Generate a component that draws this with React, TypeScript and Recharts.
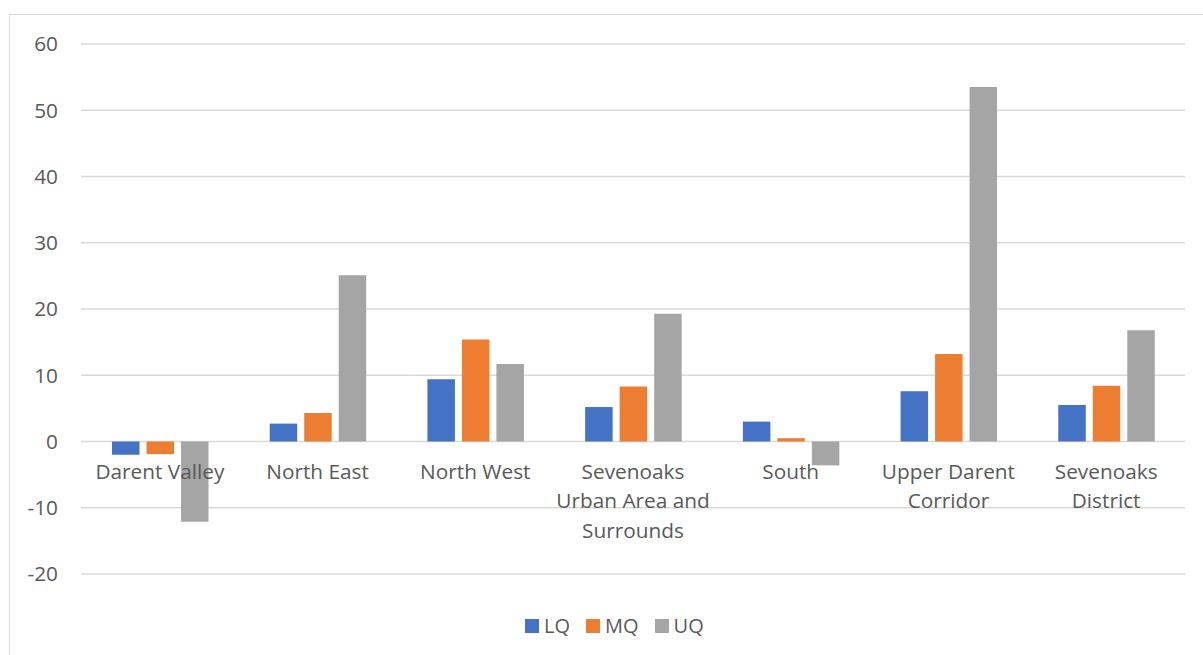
import { Bar, BarChart, CartesianGrid, Legend, XAxis, YAxis } from 'recharts';

const categories = [
  'Darent Valley',
  'North East',
  'North West',
  'Sevenoaks Urban Area and Surrounds',
  'South',
  'Upper Darent Corridor',
  'Sevenoaks District',
];
const lq = [-2.0, 2.7, 9.4, 5.2, 3.0, 7.6, 5.5];
const mq = [-1.9, 4.3, 15.4, 8.3, 0.5, 13.2, 8.4];
const uq = [-12.1, 25.1, 11.7, 19.3, -3.6, 53.5, 16.8];
const yTicks = [-20, -10, 0, 10, 20, 30, 40, 50, 60];

const series = [
  { key: 'LQ', color: '#4472C4' },
  { key: 'MQ', color: '#ED7D31' },
  { key: 'UQ', color: '#A5A5A5' },
];

const data = categories.map((name, i) => ({ name, LQ: lq[i], MQ: mq[i], UQ: uq[i] }));

const W = 1203;
const H = 655;
const MARGIN = { top: 44, right: 18, left: 21, bottom: 61 };
const X_AXIS_H = 20;
const Y_MIN = -20;
const Y_MAX = 60;
const PLOT_H = H - MARGIN.top - MARGIN.bottom - X_AXIS_H;
const FONT = '"Open Sans", "Noto Sans", sans-serif';
const TEXT = '#595959';
const FONT_SIZE = 20.8;

// break a category name into lines of at most 14 characters
function wrap(label: string, max = 14): string[] {
  const lines: string[] = [];
  let cur = '';
  for (const word of label.split(' ')) {
    const next = cur ? cur + ' ' + word : word;
    if (next.length > max && cur) {
      lines.push(cur);
      cur = word;
    } else {
      cur = next;
    }
  }
  if (cur) lines.push(cur);
  return lines;
}

// category labels sit just under the zero line, not at the bottom of the plot
function CategoryTick(props: any) {
  const { x, y, payload } = props;
  const zeroY = y - (PLOT_H * (0 - Y_MIN)) / (Y_MAX - Y_MIN);
  const lines = wrap(String(payload.value));
  return (
    <text x={x} y={zeroY + 37} textAnchor="middle" fill={TEXT} fontSize={FONT_SIZE} fontFamily={FONT}>
      {lines.map((line, i) => (
        <tspan key={i} x={x} dy={i === 0 ? 0 : 29.5}>
          {line}
        </tspan>
      ))}
    </text>
  );
}

function LegendContent() {
  return (
    <div style={{ display: 'flex', alignItems: 'center', fontFamily: FONT, fontSize: 20, color: TEXT }}>
      {series.map((s) => (
        <div key={s.key} style={{ display: 'flex', alignItems: 'center', marginRight: 16 }}>
          <span style={{ width: 14, height: 14, background: s.color, marginRight: 5, display: 'inline-block' }} />
          <span>{s.key}</span>
        </div>
      ))}
    </div>
  );
}

export default function App() {
  return (
    <div style={{ position: 'absolute', left: 0, top: 0, width: W, height: H, background: '#fff', overflow: 'hidden' }}>
      <div
        style={{
          position: 'absolute',
          left: 9,
          top: 14,
          width: W,
          height: H,
          borderLeft: '1px solid #d9d9d9',
          borderTop: '1px solid #d9d9d9',
        }}
      />
      <div style={{ position: 'absolute', left: 0, top: 0 }}>
        <BarChart width={W} height={H} data={data} margin={MARGIN} barGap={7} barSize={27.5}>
          <CartesianGrid vertical={false} stroke="#d9d9d9" strokeWidth={1.3} />
          <XAxis
            dataKey="name"
            height={X_AXIS_H}
            axisLine={false}
            tickLine={false}
            tickSize={0}
            tickMargin={0}
            interval={0}
            tick={<CategoryTick />}
          />
          <YAxis
            width={60}
            domain={[Y_MIN, Y_MAX]}
            ticks={yTicks}
            axisLine={false}
            tickLine={false}
            tickSize={0}
            tickMargin={23}
            tick={{ fill: TEXT, fontSize: FONT_SIZE, fontFamily: FONT }}
          />
          <Legend
            verticalAlign="middle"
            align="center"
            content={<LegendContent />}
            wrapperStyle={{ top: 612, left: 525, width: 'auto' }}
          />
          {series.map((s) => (
            <Bar key={s.key} dataKey={s.key} fill={s.color} isAnimationActive={false} />
          ))}
        </BarChart>
      </div>
    </div>
  );
}
